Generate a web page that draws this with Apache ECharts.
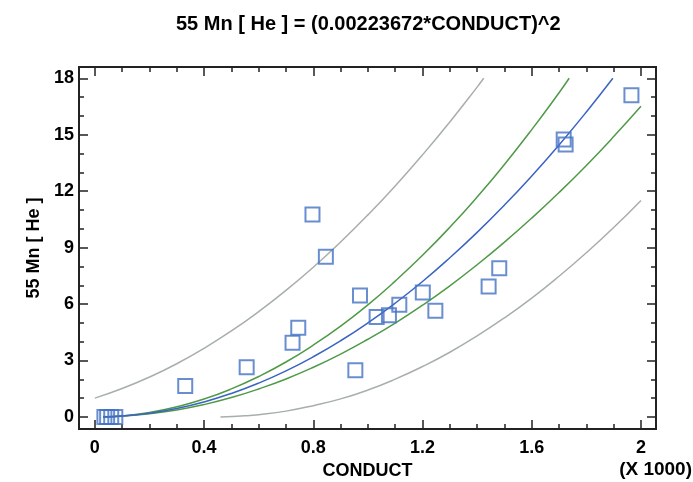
<!DOCTYPE html>
<html>
<head>
<meta charset="utf-8">
<script src="https://cdn.jsdelivr.net/npm/echarts@6/dist/echarts.min.js"></script>
<style>
  html, body { margin: 0; padding: 0; background: #fff; }
  #chart { width: 693px; height: 482px; }
</style>
</head>
<body>
<div id="chart"></div>
<script>
// observed data (CONDUCT in thousands)
const pointX = [0.035, 0.045, 0.06, 0.075, 0.331, 0.556, 0.724, 0.745, 0.797, 0.846, 0.954, 0.971,
  1.032, 1.077, 1.115, 1.201, 1.247, 1.442, 1.481, 1.717, 1.724, 1.965];
const pointY = [0, 0, 0, 0, 1.65, 2.64, 3.95, 4.74, 10.76, 8.51, 2.48, 6.46,
  5.31, 5.40, 5.96, 6.62, 5.65, 6.94, 7.91, 14.75, 14.48, 17.1];

// fitted model
const fitX = [0.03, 0.1, 0.2, 0.3, 0.4, 0.5, 0.6, 0.7, 0.8, 0.9, 1.0, 1.1, 1.2, 1.3, 1.4, 1.5, 1.6, 1.7, 1.8, 1.897];
const fitY = [0.0, 0.05, 0.2, 0.45, 0.8, 1.25, 1.8, 2.45, 3.2, 4.05, 5.0, 6.05, 7.2, 8.46, 9.81, 11.26, 12.81, 14.46, 16.21, 18.0];

// confidence limits (green)
const confUpX = [0.03, 0.1, 0.2, 0.3, 0.4, 0.5, 0.6, 0.7, 0.8, 0.9, 1.0, 1.1, 1.2, 1.3, 1.4, 1.5, 1.6, 1.7, 1.737];
const confUpY = [0.01, 0.06, 0.24, 0.54, 0.95, 1.49, 2.15, 2.92, 3.82, 4.83, 5.96, 7.22, 8.59, 10.08, 11.69, 13.42, 15.27, 17.23, 18.0];
const confLoX = [0.03, 0.1, 0.2, 0.3, 0.4, 0.5, 0.6, 0.7, 0.8, 0.9, 1.0, 1.1, 1.2, 1.3, 1.4, 1.5, 1.6, 1.7, 1.8, 1.9, 2.0];
const confLoY = [0.0, 0.04, 0.17, 0.37, 0.66, 1.03, 1.49, 2.02, 2.64, 3.34, 4.13, 4.99, 5.94, 6.97, 8.09, 9.29, 10.57, 11.93, 13.37, 14.9, 16.51];

// prediction limits (gray)
const predUpX = [0.0, 0.1, 0.2, 0.3, 0.4, 0.5, 0.6, 0.7, 0.8, 0.9, 1.0, 1.1, 1.2, 1.3, 1.4, 1.424];
const predUpY = [1.0, 1.51, 2.12, 2.83, 3.65, 4.57, 5.6, 6.73, 7.96, 9.3, 10.74, 12.28, 13.93, 15.68, 17.53, 18.0];
const predLoX = [0.46, 0.55, 0.6, 0.7, 0.8, 0.9, 1.0, 1.1, 1.2, 1.3, 1.4, 1.5, 1.6, 1.7, 1.8, 1.9, 2.0];
const predLoY = [0.0, 0.06, 0.12, 0.31, 0.6, 0.96, 1.43, 2.01, 2.68, 3.44, 4.31, 5.27, 6.32, 7.48, 8.73, 10.07, 11.51];

// ticks
const xMajor = [0, 0.4, 0.8, 1.2, 1.6, 2];
const xMinor = [0.1, 0.2, 0.3, 0.5, 0.6, 0.7, 0.9, 1.0, 1.1, 1.3, 1.4, 1.5, 1.7, 1.8, 1.9];
const yMajor = [0, 3, 6, 9, 12, 15, 18];
const yMinor = [1, 2, 4, 5, 7, 8, 10, 11, 13, 14, 16, 17];

const font = '"Liberation Sans", Arial, sans-serif';
const frame = { color: '#222', width: 2 };
const xMin = -0.058, xMax = 2.055, yMin = -0.64, yMax = 18.6;

function pairs(xs, ys) {
  return xs.map((x, i) => [x, ys[i]]);
}

function xAx(pos, ticks, len, labels) {
  return {
    type: 'value', position: pos, min: xMin, max: xMax,
    splitLine: { show: false },
    axisLine: { show: true, onZero: false, lineStyle: frame },
    axisTick: { inside: true, length: len, customValues: ticks, lineStyle: { color: '#222', width: 1.5 } },
    axisLabel: labels ? {
      customValues: ticks, margin: 10, color: '#000',
      fontFamily: font, fontWeight: 'bold', fontSize: 18
    } : { show: false }
  };
}

function yAx(pos, ticks, len, labels) {
  return {
    type: 'value', position: pos, min: yMin, max: yMax,
    splitLine: { show: false },
    axisLine: { show: true, onZero: false, lineStyle: frame },
    axisTick: { inside: true, length: len, customValues: ticks, lineStyle: { color: '#222', width: 1.5 } },
    axisLabel: labels ? {
      customValues: ticks, margin: 5, color: '#000',
      fontFamily: font, fontWeight: 'bold', fontSize: 18
    } : { show: false }
  };
}

const chart = echarts.init(document.getElementById('chart'));

const xAxes = [
  xAx('bottom', xMajor, 9, true),
  xAx('bottom', xMinor, 5, false),
  xAx('top', xMajor, 9, false),
  xAx('top', xMinor, 5, false)
];
xAxes[0].name = 'CONDUCT';
xAxes[0].nameLocation = 'middle';
xAxes[0].nameGap = 30;
xAxes[0].nameTextStyle = { fontFamily: font, fontWeight: 'bold', fontSize: 18, color: '#000' };

const yAxes = [
  yAx('left', yMajor, 9, true),
  yAx('left', yMinor, 5, false),
  yAx('right', yMajor, 9, false),
  yAx('right', yMinor, 5, false)
];
yAxes[0].name = '55 Mn [ He ]';
yAxes[0].nameLocation = 'middle';
yAxes[0].nameGap = 35;
yAxes[0].nameTextStyle = { fontFamily: font, fontWeight: 'bold', fontSize: 18, color: '#000' };

function line(data, color) {
  return {
    type: 'line', data: data, showSymbol: false, smooth: true,
    lineStyle: { color: color, width: 1.5 }, silent: true, z: 2
  };
}

chart.setOption({
  animation: false,
  backgroundColor: '#fff',
  title: {
    text: '55 Mn [ He ] = (0.00223672*CONDUCT)^2',
    left: 171, top: 9,
    textStyle: { fontFamily: font, fontWeight: 'bold', fontSize: 20, color: '#000' }
  },
  graphic: [{
    type: 'text', right: 1, top: 460,
    style: { text: '(X 1000)', fontFamily: font, fontWeight: 'bold', fontSize: 19, fill: '#000' }
  }],
  grid: { left: 79, right: 37, top: 67, bottom: 53, outerBoundsMode: 'none' },
  xAxis: xAxes,
  yAxis: yAxes,
  series: [
    line(pairs(predUpX, predUpY), '#a7afab'),
    line(pairs(predLoX, predLoY), '#a7afab'),
    line(pairs(confUpX, confUpY), '#4f9a47'),
    line(pairs(confLoX, confLoY), '#4f9a47'),
    line(pairs(fitX, fitY), '#3a63c2'),
    {
      type: 'scatter', data: pairs(pointX, pointY), symbol: 'rect', symbolSize: 14, z: 5,
      itemStyle: { color: 'rgba(0,0,0,0)', borderColor: '#4472c4', borderWidth: 2 }
    }
  ]
});
</script>
</body>
</html>
